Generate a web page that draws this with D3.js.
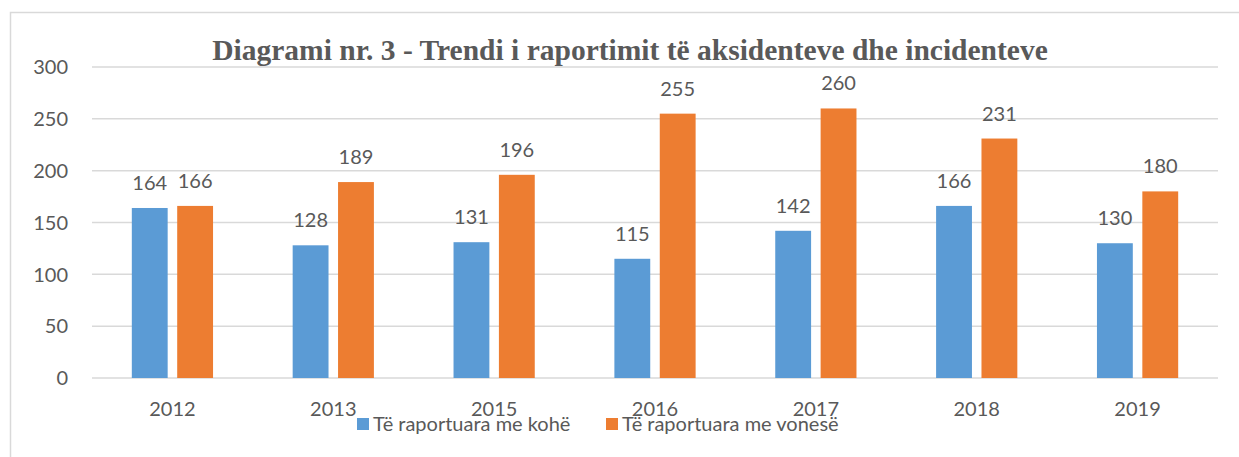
<!DOCTYPE html>
<html>
<head>
<meta charset="utf-8">
<script src="https://cdn.jsdelivr.net/npm/d3@7"></script>
<style>
  body { margin: 0; background: #fff; }
  text { font-family: Lato, "Open Sans", sans-serif; fill: #595959; }
</style>
</head>
<body>
<svg id="chart" width="1239" height="457"></svg>
<script>
const years = ["2012", "2013", "2015", "2016", "2017", "2018", "2019"];
const onTime = [164, 128, 131, 115, 142, 166, 130];
const late = [166, 189, 196, 255, 260, 231, 180];
const seriesNames = ["Të raportuara me kohë", "Të raportuara me vonesë"];
const seriesColors = ["#5b9bd5", "#ed7d31"];
const yTicks = [0, 50, 100, 150, 200, 250, 300];

const svg = d3.select("#chart");
const margin = { left: 92, right: 21, top: 67, bottom: 79 };
const width = 1239 - margin.left - margin.right;
const height = 457 - margin.top - margin.bottom;

// outer chart border
svg.append("rect")
    .attr("x", 10.5).attr("y", 12.5)
    .attr("width", 1240).attr("height", 460)
    .attr("fill", "none").attr("stroke", "#d9d9d9").attr("stroke-width", 1.5);

const g = svg.append("g").attr("transform", `translate(${margin.left}, ${margin.top})`);

const x = d3.scaleBand().domain(years).range([0, width]).paddingInner(0.495).paddingOuter(0.2475);
const x1 = d3.scaleBand().domain([0, 1]).range([0, x.bandwidth()]).paddingInner(0.21);
const y = d3.scaleLinear().domain([0, 300]).range([height, 0]);

// gridlines
g.selectAll("line.grid")
    .data(yTicks)
    .join("line")
    .attr("class", "grid")
    .attr("x1", 0).attr("x2", width)
    .attr("y1", d => y(d)).attr("y2", d => y(d))
    .attr("stroke", "#d9d9d9").attr("stroke-width", 1.5);

g.selectAll("text.ytick")
    .data(yTicks)
    .join("text")
    .attr("class", "ytick")
    .attr("x", -24)
    .attr("y", d => y(d))
    .attr("dy", "0.36em")
    .attr("text-anchor", "end")
    .attr("font-size", "20px")
    .text(d => d);

const rows = years.map((yr, i) => ({ year: yr, vals: [onTime[i], late[i]] }));

const groups = g.selectAll("g.year")
    .data(rows)
    .join("g")
    .attr("class", "year")
    .attr("transform", d => `translate(${x(d.year)}, 0)`);

groups.selectAll("rect")
    .data(d => d.vals.map((v, s) => ({ v, s })))
    .join("rect")
    .attr("x", d => x1(d.s))
    .attr("width", x1.bandwidth())
    .attr("y", d => y(d.v))
    .attr("height", d => height - y(d.v))
    .attr("fill", d => seriesColors[d.s]);

groups.selectAll("text.val")
    .data(d => d.vals.map((v, s) => ({ v, s })))
    .join("text")
    .attr("class", "val")
    .attr("x", d => x1(d.s) + x1.bandwidth() / 2)
    .attr("y", d => y(d.v) - 18)
    .attr("text-anchor", "middle")
    .attr("font-size", "20px")
    .text(d => d.v);

g.selectAll("text.xtick")
    .data(years)
    .join("text")
    .attr("class", "xtick")
    .attr("x", d => x(d) + x.bandwidth() / 2)
    .attr("y", height + 38)
    .attr("text-anchor", "middle")
    .attr("font-size", "20px")
    .text(d => d);

// title
svg.append("text")
    .attr("x", 630).attr("y", 60)
    .attr("text-anchor", "middle")
    .style("font-family", "'Liberation Serif', 'Times New Roman', serif")
    .attr("font-weight", "bold")
    .attr("font-size", "29.5px")
    .text("Diagrami nr. 3 - Trendi i raportimit të aksidenteve dhe incidenteve");

// legend
const legendX = [357, 606];
seriesNames.forEach((name, i) => {
    svg.append("rect")
        .attr("x", legendX[i]).attr("y", 418)
        .attr("width", 12).attr("height", 12)
        .attr("fill", seriesColors[i]);
    svg.append("text")
        .attr("x", legendX[i] + 16).attr("y", 431)
        .attr("font-size", "20px")
        .text(name);
});
</script>
</body>
</html>
